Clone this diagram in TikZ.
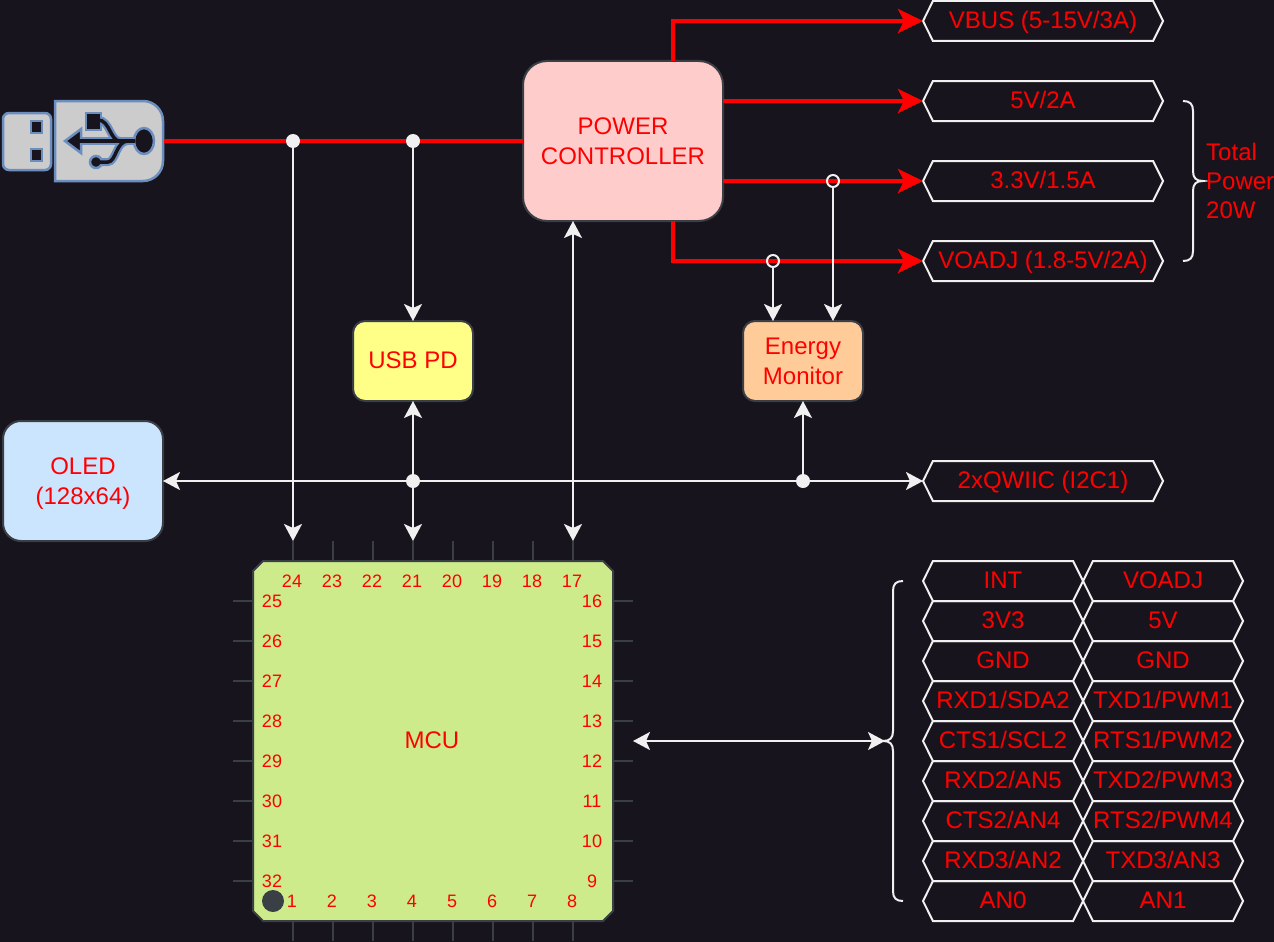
\documentclass[tikz,border=0pt]{standalone}
\usepackage{fontspec}
\setmainfont{Liberation Sans}
\usetikzlibrary{shapes.symbols,arrows.meta,calc,positioning}
\definecolor{darkbg}{HTML}{18141D}
\definecolor{dimline}{HTML}{3A3F45}
\definecolor{softwhite}{HTML}{F0F0F0}
\definecolor{usbblue}{HTML}{6C8EBF}
\definecolor{usbgrey}{HTML}{CCCCCC}
\definecolor{powerfill}{HTML}{FFCCCC}
\definecolor{pdfill}{HTML}{FFFF88}
\definecolor{monitorfill}{HTML}{FFCC99}
\definecolor{oledfill}{HTML}{CCE5FF}
\definecolor{mcufill}{HTML}{CDEB8B}
\tikzset{myblock/.style={draw=dimline,line width=2pt,inner sep=0pt,outer sep=0pt,text=red,align=center,font=\fontsize{24}{30}\selectfont}}
\tikzset{myhex/.style={signal,signal to=west and east,signal pointer angle=127,draw=softwhite,line width=2pt,inner sep=0pt,outer sep=0pt,text=red,minimum height=40pt,text height=20pt,text depth=5pt,font=\fontsize{24}{30}\selectfont}}
\tikzset{mypin/.style={text=red,inner sep=0pt,font=\fontsize{18}{22}\selectfont}}
\tikzset{mypinline/.style={draw=dimline,line width=2pt}}
\tikzset{mypower/.style={draw=red,line width=4pt,-{Stealth[length=25pt,width=24pt,inset=6pt]}}}
\tikzset{mysignal/.style={draw=softwhite,line width=2pt,-{Stealth[length=17pt,width=18pt,inset=4pt]}}}
\tikzset{mybisignal/.style={draw=softwhite,line width=2pt,{Stealth[length=17pt,width=18pt,inset=4pt]}-{Stealth[length=17pt,width=18pt,inset=4pt]}}}
\tikzset{mydot/.style={circle,fill=softwhite,inner sep=0pt,minimum size=14pt}}
\tikzset{myring/.style={circle,draw=softwhite,line width=2pt,inner sep=0pt,outer sep=0pt,minimum size=12pt}}
\tikzset{mybrace/.style={draw=softwhite,line width=2pt}}
\newcommand*\mycurly[4]{
    \draw[mybrace] (#1) .. controls +({#4*7},0) and +(0,-7) .. ++({#4*10},10)
        -- ($(#2)+({-#4*10},-10)$) .. controls +(0,7) and +({-#4*7},0) .. (#2)
        .. controls +({-#4*7},0) and +(0,-7) .. ($(#2)+({-#4*10},10)$)
        -- ($(#3)+({#4*10},-10)$) .. controls +(0,7) and +({#4*7},0) .. (#3);
}
\begin{document}
\begin{tikzpicture}[x=1pt,y=-1pt]
    \useasboundingbox[fill=darkbg] (0,0) rectangle (1274,942);

    \foreach \i in {0,...,7} {
        \draw[mypinline] ({293+40*\i},541) -- ({293+40*\i},561);
        \draw[mypinline] ({293+40*\i},921) -- ({293+40*\i},941);
        \draw[mypinline] (233,{601+40*\i}) -- (253,{601+40*\i});
        \draw[mypinline] (613,{601+40*\i}) -- (633,{601+40*\i});
    }
    \draw[draw=dimline,line width=2pt,fill=mcufill] (263,561) -- (603,561) -- (613,571) -- (613,911) -- (603,921) -- (263,921) -- (253,911) -- (253,571) -- cycle;
    \node[mypin,font=\fontsize{24}{30}\selectfont] (mcu) at (432,740) {MCU};
    \node[circle,fill=dimline,inner sep=0pt,minimum size=22pt] (pinone) at (273,901) {};
    \foreach \n [count=\i from 0] in {24,23,...,17}
        \node[mypin] (pin\n) at ({292+40*\i},581) {\n};
    \foreach \n [count=\i from 0] in {25,...,32}
        \node[mypin] (pin\n) at (272,{601+40*\i}) {\n};
    \foreach \n [count=\i from 0] in {16,15,...,9}
        \node[mypin] (pin\n) at (592,{601+40*\i}) {\n};
    \foreach \n [count=\i from 0] in {1,...,8}
        \node[mypin] (pin\n) at ({292+40*\i},901) {\n};

    \node[myblock,fill=powerfill,rounded corners=24pt,minimum width=200pt,minimum height=160pt] (power) at (623,141) {POWER\\CONTROLLER};
    \node[myblock,fill=pdfill,rounded corners=12pt,minimum width=120pt,minimum height=80pt,text height=20pt,text depth=5pt] (usbpd) at (413,361) {USB PD};
    \node[myblock,fill=monitorfill,rounded corners=12pt,minimum width=120pt,minimum height=80pt] (monitor) at (803,361) {Energy\\Monitor};
    \node[myblock,fill=oledfill,rounded corners=18pt,minimum width=160pt,minimum height=120pt,text depth=0pt] (oled) at (83,481) {OLED\\(128x64)};

    \node[myhex,minimum width=240pt] (vbus) at (1043,21) {VBUS (5-15V/3A)};
    \node[myhex,minimum width=240pt] (five) at (1043,101) {5V/2A};
    \node[myhex,minimum width=240pt] (three) at (1043,181) {3.3V/1.5A};
    \node[myhex,minimum width=240pt] (voadj) at (1043,261) {VOADJ (1.8-5V/2A)};
    \node[myhex,minimum width=240pt] (qwiic) at (1043,481) {2xQWIIC (I2C1)};
    \foreach \txt [count=\i from 0] in {INT,3V3,GND,RXD1/SDA2,CTS1/SCL2,RXD2/AN5,CTS2/AN4,RXD3/AN2,AN0}
        \node[myhex,minimum width=160pt] (left\i) at (1003,{581+40*\i}) {\txt};
    \foreach \txt [count=\i from 0] in {VOADJ,5V,GND,TXD1/PWM1,RTS1/PWM2,TXD2/PWM3,RTS2/PWM4,TXD3/AN3,AN1}
        \node[myhex,minimum width=160pt] (right\i) at (1163,{581+40*\i}) {\txt};

    \draw[draw=usbblue,line width=2.5pt,fill=usbgrey,rounded corners=6pt] (3,113) rectangle (51,170);
    \draw[draw=usbblue,line width=2.5pt,fill=darkbg] (31,121) rectangle (42,133);
    \draw[draw=usbblue,line width=2.5pt,fill=darkbg] (31,149) rectangle (42,161);
    \draw[draw=usbblue,line width=2.5pt,fill=usbgrey] (55,101) [rounded corners=20pt] -- (163,101) -- (163,181) [sharp corners] -- (55,181) -- cycle;
    \coordinate (usbout) at (164,141);
    \draw[usbblue,line width=8pt] (75,141) -- (135,141);
    \draw[usbblue,line width=8pt] (98,120) .. controls (110,120) and (110,141) .. (120,141);
    \draw[usbblue,line width=8pt] (96,162) -- (108,162) .. controls (116,162) and (116,141) .. (128,141);
    \draw[usbblue,line width=2.5pt,fill=darkbg] (86,113) rectangle (101,130);
    \draw[usbblue,line width=2.5pt,fill=darkbg] (96,162) circle[radius=6pt];
    \draw[usbblue,line width=2.5pt,fill=darkbg] (144,141) ellipse[x radius=10pt,y radius=13pt];
    \draw[usbblue,line width=2.5pt,fill=darkbg] (65,141) -- (81,129) -- (81,153) -- cycle;
    \draw[darkbg,line width=3.5pt] (75,141) -- (135,141);
    \draw[darkbg,line width=3.5pt] (98,120) .. controls (110,120) and (110,141) .. (120,141);
    \draw[darkbg,line width=3.5pt] (96,162) -- (108,162) .. controls (116,162) and (116,141) .. (128,141);

    \draw[draw=red,line width=4pt] (usbout) -- (power.west |- usbout);
    \draw[mypower] ([xshift=50pt]power.north) |- (vbus.west);
    \draw[mypower] ([yshift=40pt]power.east) -- (five.west);
    \draw[mypower] ([yshift=-40pt]power.east) -- (three.west);
    \draw[mypower] ([xshift=50pt]power.south) |- (voadj.west);

    \node[mydot] (usbtap) at (293,141) {};
    \node[mydot] (pdtap) at (413,141) {};
    \node[mydot] (bustap) at (413,481) {};
    \node[mydot] (montap) at (803,481) {};
    \node[myring] (threetap) at (833,181) {};
    \node[myring] (voadjtap) at (773,261) {};

    \draw[mysignal] (usbtap) -- (293,541);
    \draw[mysignal] (pdtap) -- (usbpd);
    \draw[mybisignal] (usbpd) -- (413,541);
    \draw[mybisignal] ([xshift=-50pt]power.south) -- (573,541);
    \draw[mysignal] (bustap) -- (oled.east);
    \draw[mysignal] (bustap) -- (qwiic.west);
    \draw[mysignal] (montap) -- (monitor);
    \draw[mysignal] (threetap) -- (threetap |- monitor.north);
    \draw[mysignal] (voadjtap) -- (voadjtap |- monitor.north);

    \coordinate (bracetop) at (903,581);
    \coordinate (bracebottom) at (903,901);
    \coordinate (bracetip) at (883,741);
    \coordinate (mcuport) at (633,741);
    \mycurly{bracetop}{bracetip}{bracebottom}{-1}
    \draw[mybisignal] (mcuport) -- (885,741);

    \coordinate (sumtop) at (1183,101);
    \coordinate (sumtip) at (1203,181);
    \coordinate (sumbottom) at (1183,261);
    \mycurly{sumtop}{sumtip}{sumbottom}{1}
    \node[mypin,font=\fontsize{24}{29}\selectfont,align=left,anchor=west] (total) at (1206,180.5) {Total\\Power\\20W};
\end{tikzpicture}
\end{document}
